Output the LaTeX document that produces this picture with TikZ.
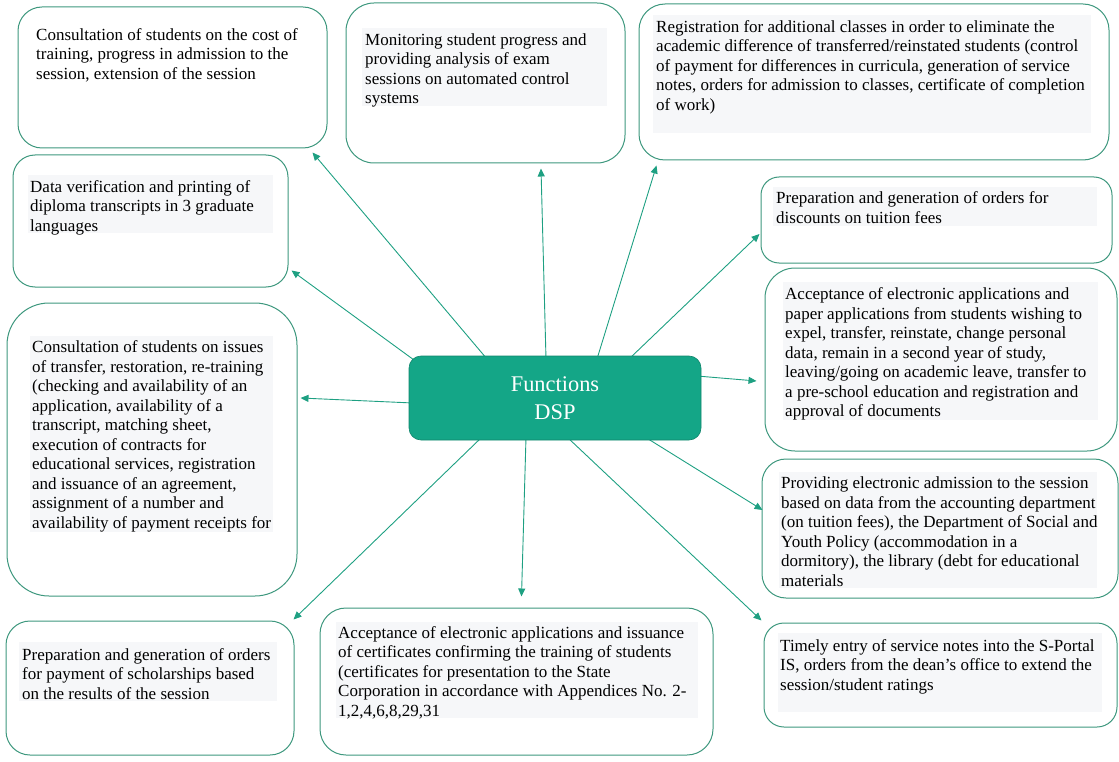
\documentclass[tikz,border=0pt]{standalone}
\usepackage{fontspec}
\setmainfont{Liberation Serif}
\usetikzlibrary{arrows.meta}
\definecolor{boxc}{RGB}{62,152,126}
\definecolor{linec}{RGB}{30,160,130}
\definecolor{cfill}{RGB}{20,166,135}
\definecolor{hlc}{RGB}{246,247,249}
\tikzset{
  fbox/.style={draw=boxc, line width=1pt, fill=white, inner sep=0pt, rectangle},
  txt/.style={anchor=north west, inner sep=0pt, align=left, font=\fontsize{17}{19.5}\selectfont, text=black},
  hl/.style={fill=hlc},
  conn/.style={draw=linec, line width=0.9pt, -{Triangle[length=8pt,width=7pt]}},
  cnode/.style={fill=cfill, draw=cfill!80!black, line width=0.6pt, rounded corners=12pt, inner sep=0pt, text=white, align=center, font=\fontsize{22.4}{27.5}\selectfont}
}
\begin{document}
\begin{tikzpicture}[x=1pt,y=-1pt]
\useasboundingbox (0,0) rectangle (1119,762);
% boxes
\node[fbox, rounded corners=24pt, minimum width=309pt, minimum height=141pt] (b1) at (172.5,77.5) {};
\node[txt] (t1) at (36,26.35) {\strut Consultation of students on the cost of\\training, progress in admission to the\\session, extension of the session};

\node[fbox, rounded corners=28pt, minimum width=279pt, minimum height=160pt] (b2) at (485.5,83) {};
\fill[hl] (362,28) rectangle (607,106);
\node[txt] (t2) at (365,31.35) {\strut Monitoring student progress and\\providing analysis of exam\\sessions on automated control\\systems};

\node[fbox, rounded corners=26pt, minimum width=470pt, minimum height=156pt] (b3) at (874,82) {};
\fill[hl] (653,15) rectangle (1091,133);
\node[txt] (t3) at (656,18.65) {\strut Registration for additional classes in order to eliminate the\\academic difference of transferred/reinstated students (control\\of payment for differences in curricula, generation of service\\notes, orders for admission to classes, certificate of completion\\of work)};

\node[fbox, rounded corners=18pt, minimum width=351pt, minimum height=86pt] (b4) at (936.5,220) {};
\fill[hl] (773,187) rectangle (1097,226);
\node[txt] (t4) at (776,189.65) {\strut Preparation and generation of orders for\\discounts on tuition fees};

\node[fbox, rounded corners=30pt, minimum width=352pt, minimum height=183pt] (b5) at (941,359.5) {};
\fill[hl] (783,282) rectangle (1098,420);
\node[txt] (t5) at (785,285.65) {\strut Acceptance of electronic applications and\\paper applications from students wishing to\\expel, transfer, reinstate, change personal\\data, remain in a second year of study,\\leaving/going on academic leave, transfer to\\a pre-school education and registration and\\approval of documents};

\node[fbox, rounded corners=24pt, minimum width=356pt, minimum height=139pt] (b6) at (940,528.5) {};
\fill[hl] (779,472) rectangle (1097,588);
\node[txt] (t6) at (781,474.65) {\strut Providing electronic admission to the session\\based on data from the accounting department\\(on tuition fees), the Department of Social and\\Youth Policy (accommodation in a\\dormitory), the library (debt for educational\\materials};

\node[fbox, rounded corners=20pt, minimum width=353pt, minimum height=104pt] (b7) at (940.5,675) {};
\fill[hl] (778,633) rectangle (1102,712);
\node[txt] (t7) at (780,637.35) {\strut Timely entry of service notes into the S-Portal\\IS, orders from the dean’s office to extend the\\session/student ratings};

\node[fbox, rounded corners=26pt, minimum width=393pt, minimum height=147pt] (b8) at (516.5,681.5) {};
\fill[hl] (336,622) rectangle (698,718);
\node[txt] (t8) at (338,624.35) {\strut Acceptance of electronic applications and issuance\\of certificates confirming the training of students\\(certificates for presentation to the State\\Corporation in accordance with Appendices No. 2-\\1,2,4,6,8,29,31};

\node[fbox, rounded corners=24pt, minimum width=288pt, minimum height=134pt] (b9) at (150,688) {};
\fill[hl] (19,642) rectangle (277,701);
\node[txt] (t9) at (22,646.35) {\strut Preparation and generation of orders\\for payment of scholarships based\\on the results of the session};

\node[fbox, rounded corners=42pt, minimum width=290pt, minimum height=293pt] (b10) at (152,449.5) {};
\fill[hl] (30,336) rectangle (273,532);
\node[txt] (t10) at (32,338.85) {\strut Consultation of students on issues\\of transfer, restoration, re-training\\(checking and availability of an\\application, availability of a\\transcript, matching sheet,\\execution of contracts for\\educational services, registration\\and issuance of an agreement,\\assignment of a number and\\availability of payment receipts for};

\node[fbox, rounded corners=22pt, minimum width=275pt, minimum height=132pt] (b11) at (150.5,221) {};
\fill[hl] (28,175) rectangle (273,233);
\node[txt] (t11) at (30,178.35) {\strut Data verification and printing of\\diploma transcripts in 3 graduate\\languages};

% connectors (drawn before the centre so it covers their starts)
\coordinate (cnw) at (409,356);
\coordinate (csw) at (409,440);
\coordinate (cne) at (701,356);
\draw[conn] ([xshift=78pt,yshift=-3pt]cnw) -- ([xshift=-15pt,yshift=-4pt]b1.south east);
\draw[conn] ([xshift=5pt,yshift=-4pt]cnw) -- ([xshift=3pt,yshift=17pt]b11.south east);
\draw[conn] ([xshift=137pt,yshift=-3pt]cnw) -- ([xshift=55.5pt,yshift=-5pt]b2.south);
\draw[conn] ([xshift=188pt,yshift=-3pt]cnw) -- ([xshift=18pt,yshift=-5pt]b3.south west);
\draw[conn] ([xshift=220pt,yshift=-3pt]cnw) -- ([xshift=-1pt,yshift=-14pt]b4.west);
\draw[conn] ([xshift=-4pt,yshift=-20pt]cne) -- ([xshift=-8pt,yshift=-21.5pt]b5.west);
\draw[conn] ([xshift=4pt,yshift=-47pt]cnw) -- ([xshift=3pt,yshift=51.5pt]b10.east);
\draw[conn] ([xshift=73pt,yshift=3pt]csw) -- ([xshift=-1pt,yshift=1pt]b9.north east);
\draw[conn] ([xshift=117pt,yshift=3pt]csw) -- ([xshift=5pt,yshift=11pt]b8.north);
\draw[conn] ([xshift=158pt,yshift=3pt]csw) -- ([xshift=-2pt,yshift=2pt]b7.north west);
\draw[conn] ([xshift=236pt,yshift=3pt]csw) -- ([xshift=1pt,yshift=18.5pt]b6.west);

% centre
\node[cnode, minimum width=292pt, minimum height=84pt] (c) at (555,398) {Functions\\DSP};
\end{tikzpicture}
\end{document}
